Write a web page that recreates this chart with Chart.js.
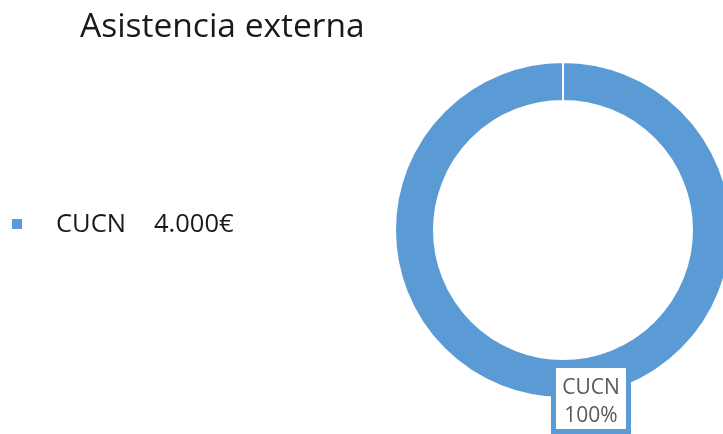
<!DOCTYPE html>
<html>
<head>
<meta charset="utf-8">
<script src="https://cdn.jsdelivr.net/npm/chart.js@4.4.1/dist/chart.umd.min.js"></script>
<style>
  html, body { margin: 0; padding: 0; background: #fff; overflow: hidden; width: 723px; height: 434px; }
  #wrap { position: relative; width: 740px; height: 434px; }
</style>
</head>
<body>
<div id="wrap"><canvas id="c" width="740" height="434"></canvas></div>
<script>
const chartTitle = 'Asistencia externa';
const categories = ['CUCN'];
const values = [4000];
const colors = ['#5B9BD5'];

function fmtEuro(v) {
  return String(v).replace(/\B(?=(\d{3})+(?!\d))/g, '.') + '€';
}
const total = values.reduce((a, b) => a + b, 0);
const percentLabels = values.map(v => Math.round(v / total * 100) + '%');
const valueLabels = values.map(fmtEuro);

const FONT = '"Open Sans", "Noto Sans", sans-serif';

const decorPlugin = {
  id: 'decor',
  afterDraw(chart) {
    const ctx = chart.ctx;
    const meta = chart.getDatasetMeta(0);
    ctx.save();
    // Title
    ctx.fillStyle = '#1a1a1a';
    ctx.font = '33.5px ' + FONT;
    ctx.textBaseline = 'alphabetic';
    ctx.textAlign = 'left';
    ctx.fillText(chartTitle, 80, 37);

    // Legend
    categories.forEach((cat, i) => {
      const y = 232 + i * 30;
      ctx.fillStyle = colors[i];
      ctx.fillRect(12, y - 13, 10, 10);
      ctx.fillStyle = '#1a1a1a';
      ctx.font = '25.5px ' + FONT;
      ctx.fillText(cat, 56, y);
      ctx.fillText(valueLabels[i], 154, y);
    });

    // Data labels
    meta.data.forEach((arc, i) => {
      const p = arc.tooltipPosition();
      const cx = p.x + 28, cy = p.y + 20;
      ctx.fillStyle = '#ffffff';
      ctx.fillRect(cx - 35, cy - 30.5, 70, 61);
      ctx.strokeStyle = colors[i];
      ctx.lineWidth = 5;
      ctx.strokeRect(cx - 37.5, cy - 33, 75, 66);
      ctx.fillStyle = '#595959';
      ctx.font = '21px ' + FONT;
      ctx.textAlign = 'center';
      ctx.fillText(categories[i], cx, cy - 4.5);
      ctx.fillText(percentLabels[i], cx, cy + 23.5);
    });
    ctx.restore();
  }
};

new Chart(document.getElementById('c'), {
  type: 'doughnut',
  data: {
    labels: categories,
    datasets: [{
      data: values,
      backgroundColor: colors,
      borderColor: '#ffffff',
      borderWidth: 2
    }]
  },
  options: {
    responsive: false,
    animation: false,
    cutout: '76.8%',
    layout: { padding: { left: 394, right: 8, top: 61, bottom: 35 } },
    plugins: {
      legend: { display: false },
      title: { display: false },
      tooltip: { enabled: false }
    }
  },
  plugins: [decorPlugin]
});
</script>
</body>
</html>
